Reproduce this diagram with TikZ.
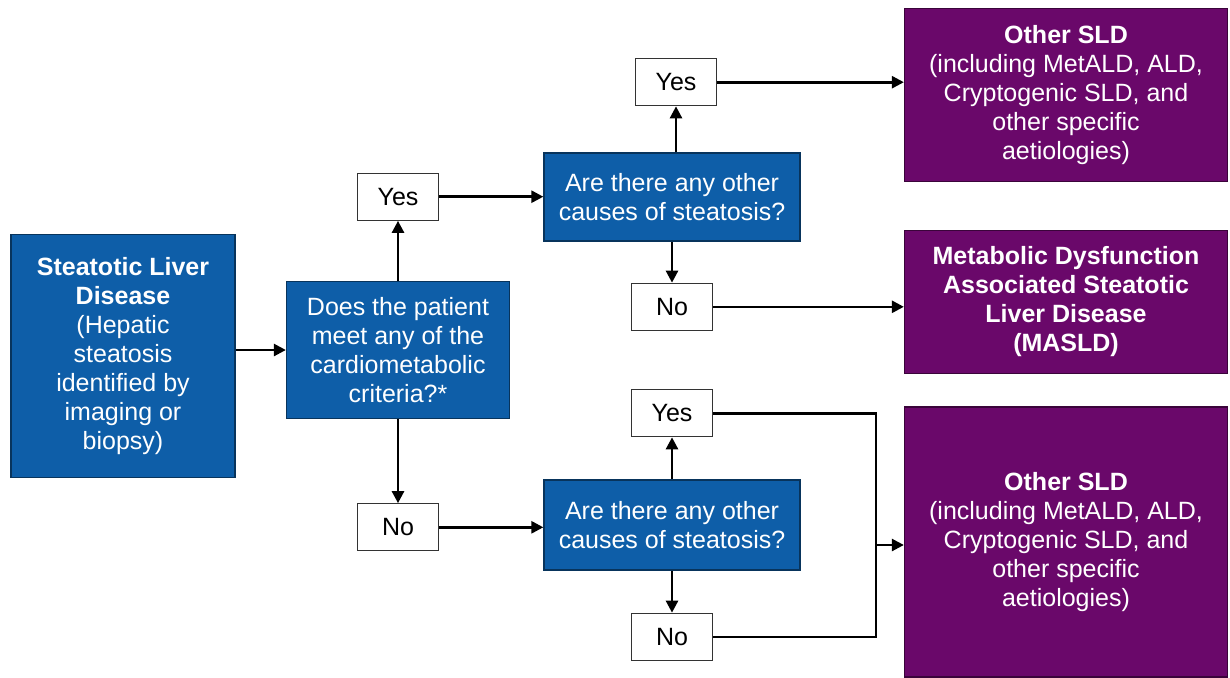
\documentclass[tikz,border=0pt]{standalone}
\usepackage{fontspec}
\setmainfont{Liberation Sans}
\usetikzlibrary{arrows.meta,positioning}
\definecolor{sldblue}{RGB}{14,94,168}
\definecolor{sldpurple}{RGB}{106,8,106}

\begin{document}
\begin{tikzpicture}[
  x=1pt,y=-1pt,
  font=\fontsize{25}{29}\selectfont,
  box/.style={draw,align=center,inner sep=0pt,line width=1.3pt},
  qbox/.style={box,fill=sldblue,draw=sldblue!55!black,text=white},
  outbox/.style={box,fill=sldpurple,draw=sldpurple!55!black,text=white,minimum width=323pt},
  ans/.style={box,fill=white,draw=black!80,minimum width=81pt,minimum height=47pt},
  arr/.style={-{Triangle[length=12pt,width=12pt]},line width=2.6pt},
  link/.style={line width=2.6pt}
]
\useasboundingbox[fill=white] (0,0) rectangle (1230,677);

% starting point
\node[qbox,minimum width=224pt,minimum height=243pt] (sld) at (123,356)
  {\textbf{Steatotic Liver}\\\textbf{Disease}\\(Hepatic\\steatosis\\identified by\\imaging or\\biopsy)};

% first question
\node[qbox,minimum width=223pt,minimum height=137pt] (crit) at (398,350)
  {Does the patient\\meet any of the\\cardiometabolic\\criteria?*};
\node[ans,above=60pt of crit] (yes1) {Yes};
\node[ans,below=84pt of crit] (no1) {No};

% second questions
\node[qbox,minimum width=256pt,minimum height=88pt] (cause1) at (672,197)
  {Are there any other\\causes of steatosis?};
\node[qbox,minimum width=256pt,minimum height=90pt] (cause2) at (672,525)
  {Are there any other\\causes of steatosis?};
\node[ans,above=46pt of cause1,xshift=4pt] (yes2) {Yes};
\node[ans,below=41pt of cause1] (no2) {No};
\node[ans,above=42pt of cause2] (yes3) {Yes};
\node[ans,below=42pt of cause2] (no3) {No};

% outcomes
\node[outbox,minimum height=173pt] (other1) at (1066,95)
  {\textbf{Other SLD}\\(including MetALD, ALD,\\Cryptogenic SLD, and\\other specific\\aetiologies)};
\node[outbox,minimum height=143pt] (masld) at (1066,302)
  {\textbf{Metabolic Dysfunction}\\\textbf{Associated Steatotic}\\\textbf{Liver Disease}\\\textbf{(MASLD)}};
\node[outbox,minimum height=270pt] (other2) at (1066,542)
  {\textbf{Other SLD}\\(including MetALD, ALD,\\Cryptogenic SLD, and\\other specific\\aetiologies)};

% connectors
\draw[arr] (sld.east|-crit) -- (crit.west);
\draw[arr] (crit.north) -- (yes1.south);
\draw[arr] (crit.south) -- (no1.north);
\draw[arr] (yes1.east) -- (yes1.east-|cause1.west);
\draw[arr] (no1.east) -- (no1.east-|cause2.west);
\draw[arr] (yes2.south|-cause1.north) -- (yes2.south);
\draw[arr] (cause1.south) -- (no2.north);
\draw[arr] (cause2.north) -- (yes3.south);
\draw[arr] (cause2.south) -- (no3.north);
\draw[arr] (yes2.east) -- (yes2.east-|other1.west);
\draw[arr] (no2.east) -- (no2.east-|masld.west);

% both answers lead to other SLD
\coordinate (bend) at (876,545);
\draw[link] (yes3.east) -| (bend|-no3.east) -- (no3.east);
\draw[arr] (bend) -- (bend-|other2.west);
\end{tikzpicture}
\end{document}
